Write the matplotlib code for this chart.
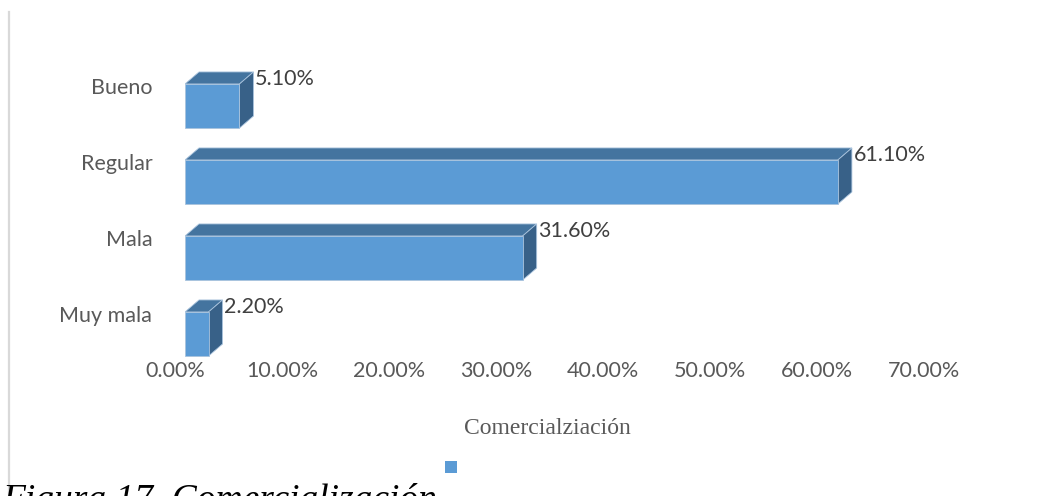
import matplotlib.pyplot as plt
import matplotlib.transforms as mtransforms
from matplotlib.patches import Polygon, Rectangle
from matplotlib.lines import Line2D

# data (bottom to top)
categories = ["Muy mala", "Mala", "Regular", "Bueno"]
values = [2.2, 31.6, 61.1, 5.1]
value_labels = ["2.20%", "31.60%", "61.10%", "5.10%"]
x_ticks = [0, 10, 20, 30, 40, 50, 60, 70]
x_tick_labels = [f"{t:.2f}%" for t in x_ticks]
axis_title = "Comercialziación"
caption = "Figura 17. Comercialización"

FRONT = "#5B9BD5"
TOP = "#44749F"
SIDE = "#386188"
EDGE = "#A9C3DD"
TXT = "#595959"
FS = 15.5

BAR_H = 0.58
DX = 1.31    # depth in % units
DY = 0.158   # depth in category units

fig = plt.figure(figsize=(10.42, 4.96), dpi=100)
ax = fig.add_axes([185 / 1042, 1 - 372 / 496, 748 / 1042, 304 / 496])
ax.set_xlim(0, 70)
ax.set_ylim(-0.5, 3.5)
for s in ax.spines.values():
    s.set_visible(False)

for i, (v, lab) in enumerate(zip(values, value_labels)):
    yb = i - BAR_H / 2
    yt = i + BAR_H / 2
    ax.add_patch(Polygon([(0, yt), (v, yt), (v + DX, yt + DY), (DX, yt + DY)],
                         closed=True, facecolor=TOP, edgecolor=EDGE, lw=0.6))
    ax.add_patch(Polygon([(v, yb), (v, yt), (v + DX, yt + DY), (v + DX, yb + DY)],
                         closed=True, facecolor=SIDE, edgecolor=EDGE, lw=0.6))
    ax.add_patch(Rectangle((0, yb), v, BAR_H, facecolor=FRONT, edgecolor=EDGE, lw=0.6))
    ax.text(v + DX + 0.15, yt + 0.06, lab, fontsize=FS, family="Lato",
            color="#404040", ha="left", va="center")

ax.set_yticks(range(len(categories)))
ax.set_yticklabels(categories, fontsize=FS, family="Lato", color=TXT)
ax.set_xticks(x_ticks)
ax.set_xticklabels(x_tick_labels, fontsize=FS, family="Lato", color=TXT)
ax.tick_params(axis="y", length=0, pad=23.5)
ax.tick_params(axis="x", length=0, pad=0)

y_shift = mtransforms.ScaledTranslation(0, 20 / 100, fig.dpi_scale_trans)
for t in ax.get_yticklabels():
    t.set_transform(t.get_transform() + y_shift)
x_shift = mtransforms.ScaledTranslation(-9.5 / 100, 11 / 100, fig.dpi_scale_trans)
for t in ax.get_xticklabels():
    t.set_transform(t.get_transform() + x_shift)

fig.text(547 / 1042, 1 - 428 / 496, axis_title, fontsize=17, family="Liberation Serif",
         color=TXT, ha="center", va="center")

# legend marker
fig.patches.append(Rectangle((445 / 1042, 1 - 473 / 496), 12 / 1042, 12 / 496,
                             transform=fig.transFigure, facecolor=FRONT, edgecolor="none"))

# left frame line
fig.add_artist(Line2D([9 / 1042, 9 / 1042], [1 - 12 / 496, 0], transform=fig.transFigure,
                      color="#D9D9D9", lw=1.6))

# caption runs off the bottom edge, as in the source page
fig.text(2 / 1042, 1 - 510 / 496, caption, fontsize=27, family="Liberation Serif",
         style="italic", color="black", ha="left", va="baseline")

fig.savefig("out.png", dpi=100)
